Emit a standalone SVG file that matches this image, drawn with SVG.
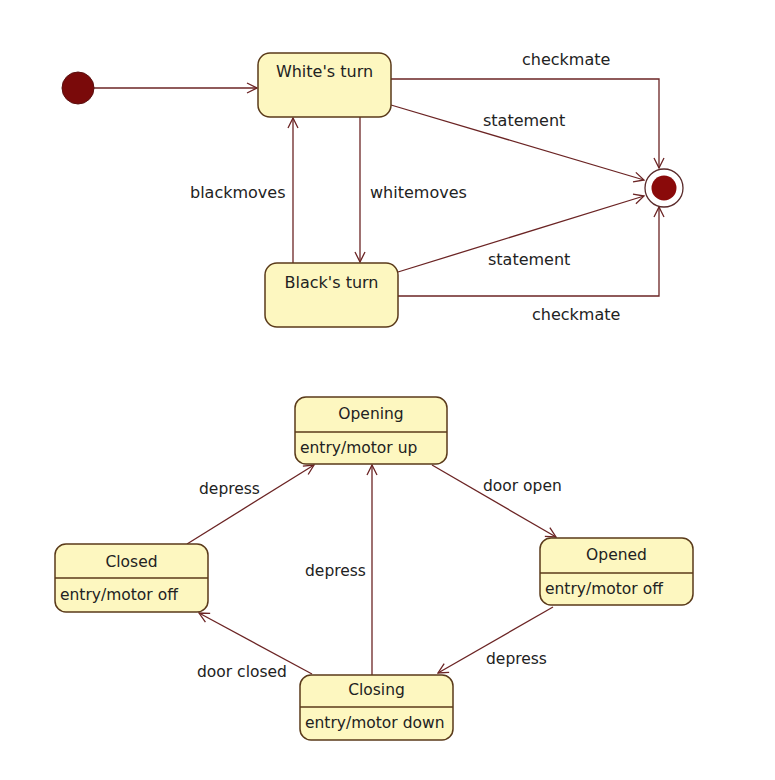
<svg xmlns="http://www.w3.org/2000/svg" width="775" height="780" viewBox="0 0 775 780">
<defs>
<style>
.st{fill:#fdf7c0;stroke:#5a3a1a;stroke-width:1.5}
.dv{stroke:#5a3a1a;stroke-width:1.5}
.ln{fill:none;stroke:#6b2424;stroke-width:1.3}
text{font-family:"DejaVu Sans",sans-serif;fill:#222}
.t16{font-size:16px}
.t15{font-size:15.5px}
.c{text-anchor:middle}
</style>
<marker id="ah" viewBox="0 0 12 12" refX="11" refY="6" markerWidth="12" markerHeight="12" markerUnits="userSpaceOnUse" orient="auto">
<path d="M1,1 L11,6 L1,11" fill="none" stroke="#6b2424" stroke-width="1.3"/>
</marker>
</defs>
<rect width="775" height="780" fill="#fff"/>
<g id="connectors">
<line class="ln" x1="94" y1="88" x2="257" y2="88" marker-end="url(#ah)"/>
<line class="ln" x1="360" y1="117" x2="360" y2="262" marker-end="url(#ah)"/>
<line class="ln" x1="293" y1="263" x2="293" y2="118" marker-end="url(#ah)"/>
<polyline class="ln" points="391,79 659,79 659,168" marker-end="url(#ah)"/>
<line class="ln" x1="391" y1="105" x2="644" y2="180" marker-end="url(#ah)"/>
<line class="ln" x1="398" y1="272" x2="644" y2="196" marker-end="url(#ah)"/>
<polyline class="ln" points="398,296 659,296 659,207" marker-end="url(#ah)"/>
<line class="ln" x1="187" y1="544" x2="314" y2="465" marker-end="url(#ah)"/>
<line class="ln" x1="372" y1="675" x2="372" y2="465" marker-end="url(#ah)"/>
<line class="ln" x1="312" y1="674" x2="199" y2="613" marker-end="url(#ah)"/>
<line class="ln" x1="432" y1="465" x2="556" y2="537" marker-end="url(#ah)"/>
<line class="ln" x1="553" y1="607" x2="438" y2="673" marker-end="url(#ah)"/>
<text class="t16" x="522" y="65">checkmate</text>
<text class="t16" x="483" y="126">statement</text>
<text class="t16" x="190" y="198">blackmoves</text>
<text class="t16" x="370" y="198">whitemoves</text>
<text class="t16" x="488" y="265">statement</text>
<text class="t16" x="532" y="320">checkmate</text>
<text class="t15" x="199" y="494">depress</text>
<text class="t15" x="483" y="491">door open</text>
<text class="t15" x="305" y="576">depress</text>
<text class="t15" x="486" y="664">depress</text>
<text class="t15" x="197" y="677">door closed</text>
</g>
<g id="initial">
<circle cx="78" cy="88" r="16" fill="#7a0a0a" stroke="#5a1010" stroke-width="1"/>
</g>
<g id="final">
<circle cx="664" cy="188" r="19" fill="#fff" stroke="#5a2a2a" stroke-width="1.3"/>
<circle cx="664" cy="188" r="12.5" fill="#8a0a0a"/>
</g>
<g id="whites-turn">
<rect class="st" x="258" y="53" width="133" height="64" rx="12"/>
<text class="t16 c" x="324.5" y="77">White's turn</text>
</g>
<g id="blacks-turn">
<rect class="st" x="265" y="263" width="133" height="64" rx="12"/>
<text class="t16 c" x="331.5" y="288">Black's turn</text>
</g>
<g id="opening">
<rect class="st" x="295" y="397" width="152" height="67" rx="11"/>
<line class="dv" x1="295" y1="432" x2="447" y2="432"/>
<text class="t15 c" x="371" y="419">Opening</text>
<text class="t15" x="300" y="453">entry/motor up</text>
</g>
<g id="closed">
<rect class="st" x="55" y="544" width="153" height="68" rx="11"/>
<line class="dv" x1="55" y1="578" x2="208" y2="578"/>
<text class="t15 c" x="131.5" y="567">Closed</text>
<text class="t15" x="60" y="600">entry/motor off</text>
</g>
<g id="opened">
<rect class="st" x="540" y="538" width="153" height="67" rx="11"/>
<line class="dv" x1="540" y1="573" x2="693" y2="573"/>
<text class="t15 c" x="616.5" y="560">Opened</text>
<text class="t15" x="545" y="594">entry/motor off</text>
</g>
<g id="closing">
<rect class="st" x="300" y="675" width="153" height="65" rx="11"/>
<line class="dv" x1="300" y1="707" x2="453" y2="707"/>
<text class="t15 c" x="376.5" y="695">Closing</text>
<text class="t15" x="305" y="728">entry/motor down</text>
</g>
</svg>
